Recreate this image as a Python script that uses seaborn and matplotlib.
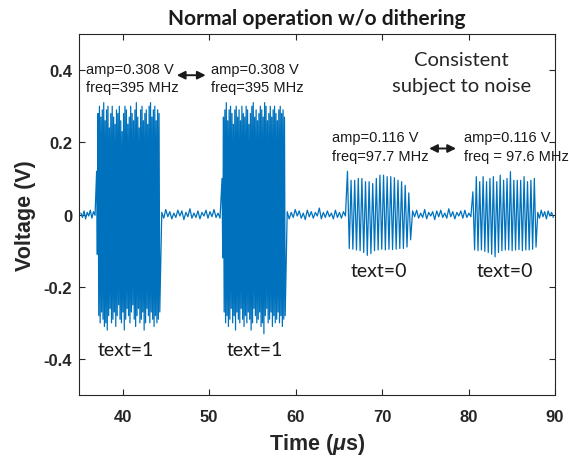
import numpy as np
import matplotlib
matplotlib.use('Agg')
import matplotlib.pyplot as plt
import seaborn as sns

# burst windows in microseconds
burst_start = [37.0, 51.5, 66.0, 80.5]
burst_stop = [44.3, 58.8, 73.3, 87.8]

# peak values (V) of each burst, top and bottom, left to right
burst1_top = [0.12, 0.28, 0.30, 0.27, 0.29, 0.31, 0.26, 0.29, 0.30, 0.24, 0.28, 0.30,
              0.27, 0.25, 0.29, 0.28, 0.30, 0.26, 0.23, 0.28, 0.30, 0.29, 0.25, 0.27,
              0.30, 0.28, 0.26, 0.29, 0.31, 0.27, 0.24, 0.29, 0.30, 0.26, 0.28, 0.29,
              0.25, 0.30, 0.31, 0.27, 0.29, 0.30, 0.26, 0.29, 0.28]
burst1_bot = [-0.11, -0.28, -0.30, -0.27, -0.29, -0.31, -0.30, -0.32, -0.28, -0.26, -0.30, -0.29,
              -0.27, -0.31, -0.28, -0.25, -0.29, -0.30, -0.27, -0.32, -0.29, -0.26, -0.28, -0.30,
              -0.27, -0.25, -0.29, -0.31, -0.28, -0.26, -0.30, -0.29, -0.27, -0.32, -0.30, -0.26,
              -0.28, -0.30, -0.27, -0.29, -0.31, -0.28, -0.30, -0.29, -0.27]
burst2_top = [0.10, 0.27, 0.29, 0.31, 0.26, 0.29, 0.30, 0.28, 0.25, 0.29, 0.30, 0.27,
              0.29, 0.26, 0.30, 0.28, 0.27, 0.30, 0.29, 0.25, 0.28, 0.30, 0.31, 0.27,
              0.29, 0.26, 0.28, 0.30, 0.29, 0.27, 0.31, 0.30, 0.26, 0.28, 0.30, 0.27,
              0.29, 0.30, 0.28, 0.26, 0.29, 0.30, 0.28, 0.29, 0.27]
burst2_bot = [-0.12, -0.27, -0.30, -0.28, -0.31, -0.29, -0.26, -0.30, -0.28, -0.32, -0.27, -0.29,
              -0.30, -0.26, -0.29, -0.31, -0.28, -0.30, -0.27, -0.29, -0.32, -0.30, -0.26, -0.28,
              -0.30, -0.29, -0.27, -0.31, -0.30, -0.33, -0.28, -0.26, -0.30, -0.29, -0.27, -0.31,
              -0.28, -0.30, -0.29, -0.27, -0.30, -0.28, -0.31, -0.29, -0.28]
burst3_top = [0.120, 0.095, 0.095, 0.100, 0.100, 0.091, 0.091, 0.086, 0.100, 0.109,
              0.109, 0.105, 0.105, 0.102, 0.095, 0.091, 0.081, 0.060]
burst3_bot = [-0.094, -0.096, -0.098, -0.100, -0.105, -0.113, -0.108, -0.100, -0.098, -0.096,
              -0.098, -0.096, -0.097, -0.096, -0.094, -0.094, -0.090, -0.070]
burst4_top = [0.063, 0.105, 0.091, 0.105, 0.091, 0.100, 0.105, 0.091, 0.109, 0.095,
              0.100, 0.119, 0.095, 0.095, 0.095, 0.105, 0.091, 0.095, 0.100]
burst4_bot = [-0.098, -0.100, -0.098, -0.102, -0.105, -0.110, -0.117, -0.105, -0.100, -0.098,
              -0.098, -0.100, -0.098, -0.097, -0.100, -0.098, -0.098, -0.096, -0.090]

# baseline noise (V) in the quiet stretches before, between and after the bursts
gap0_noise = [0.004, -0.008, 0.010, -0.012, 0.006, -0.004, 0.012, -0.010, 0.008, -0.002]
gap1_noise = [0.006, -0.010, 0.014, -0.006, 0.008, -0.012, 0.004, -0.008, 0.012, -0.004,
              0.010, -0.014, 0.006, -0.006, 0.016, -0.010, 0.004, -0.008, 0.010, -0.012,
              0.006, -0.004, 0.012, -0.010, 0.008, -0.006, 0.014, -0.008, 0.004, -0.010]
gap2_noise = [0.008, -0.012, 0.006, -0.008, 0.014, -0.004, 0.010, -0.010, 0.004, -0.014,
              0.012, -0.006, 0.008, -0.010, 0.006, -0.004, 0.018, -0.012, 0.006, -0.008,
              0.010, -0.006, 0.004, -0.012, 0.012, -0.008, 0.006, -0.010, 0.008, -0.004]
gap3_noise = [0.010, -0.006, 0.012, -0.010, 0.004, -0.008, 0.014, -0.012, 0.006, -0.004,
              0.008, -0.014, 0.010, -0.006, 0.012, -0.008, 0.004, -0.010, 0.016, -0.006,
              0.008, -0.012, 0.006, -0.004, 0.010, -0.010, 0.012, -0.008, 0.004, -0.006]
gap4_noise = [0.006, -0.010, 0.012, -0.006, 0.008, -0.012, 0.010, -0.004, 0.006, -0.008]

burst_tops = [burst1_top, burst2_top, burst3_top, burst4_top]
burst_bots = [burst1_bot, burst2_bot, burst3_bot, burst4_bot]
gap_noise = [gap0_noise, gap1_noise, gap2_noise, gap3_noise, gap4_noise]

burst_info = [["amp=0.308 V", "freq=395 MHz"],
              ["amp=0.308 V", "freq=395 MHz"],
              ["amp=0.116 V", "freq=97.7 MHz"],
              ["amp=0.116 V", "freq = 97.6 MHz"]]
burst_text = ["text=1", "text=1", "text=0", "text=0"]

t_min, t_max = 35, 90


def build_trace():
    t, v = [], []
    gap_edges = [t_min] + [x for pair in zip(burst_start, burst_stop) for x in pair] + [t_max]
    for i, noise in enumerate(gap_noise):
        a, b = gap_edges[2 * i], gap_edges[2 * i + 1]
        t.extend(np.linspace(a, b, len(noise) + 2)[1:-1])
        v.extend(noise)
        if i < len(burst_tops):
            peaks = np.column_stack([burst_tops[i], burst_bots[i]]).ravel()
            t.extend(np.linspace(burst_start[i], burst_stop[i], len(peaks)))
            v.extend(peaks)
    return np.array(t), np.array(v)


t, v = build_trace()

sns.set_theme(style='ticks')
plt.rcParams['font.family'] = ['Liberation Sans', 'DejaVu Sans']
plt.rcParams['mathtext.fontset'] = 'custom'
plt.rcParams['mathtext.it'] = 'Liberation Sans:italic:bold'
plt.rcParams['mathtext.rm'] = 'Liberation Sans:bold'

fig = plt.figure(figsize=(5.69, 4.60), dpi=100)
ax = fig.add_axes([0.1394, 0.139, 0.8361, 0.7848])

sns.lineplot(x=t, y=v, estimator=None, sort=False, color='#0072BD', lw=0.9, ax=ax)

ax.set_xlim(t_min, t_max)
ax.set_ylim(-0.5, 0.5)
ax.set_xticks([40, 50, 60, 70, 80, 90])
ax.set_yticks([-0.4, -0.2, 0, 0.2, 0.4])
ax.set_yticklabels(['-0.4', '-0.2', '0', '0.2', '0.4'])
ax.tick_params(direction='in', top=True, right=True, length=4, width=0.8,
               colors='#262626', labelsize=12)
ax.tick_params(axis='x', pad=10)
ax.tick_params(axis='y', pad=5)
for lbl in ax.get_xticklabels() + ax.get_yticklabels():
    lbl.set_fontweight('bold')
for sp in ax.spines.values():
    sp.set_visible(True)
    sp.set_color('#262626')
    sp.set_linewidth(0.8)

ax.set_xlabel('Time ($\\mu$s)', fontsize=15.5, fontweight='bold', color='#262626', labelpad=5)
ax.set_ylabel('Voltage (V)', fontsize=15.5, fontweight='bold', color='#262626', labelpad=6)
ax.set_title('Normal operation w/o dithering', fontsize=15, fontweight='bold',
             family='Lato', color='k', pad=7)

# burst annotations
info_x = [35.77, 50.19, 64.26, 79.49]
info_y = [(0.392, 0.342), (0.392, 0.342), (0.203, 0.150), (0.203, 0.150)]
for x, (y1, y2), lines in zip(info_x, info_y, burst_info):
    ax.text(x, y1, lines[0], fontsize=10.5, va='baseline', ha='left', color='k')
    ax.text(x, y2, lines[1], fontsize=10.5, va='baseline', ha='left', color='k')

for (x0, x1, y) in [(46.27, 49.61, 0.386), (75.44, 78.55, 0.183)]:
    ax.annotate('', xy=(x1, y), xytext=(x0, y),
                arrowprops=dict(arrowstyle='<|-|>', color='k', lw=1.4,
                                mutation_scale=12, shrinkA=0, shrinkB=0))

label_x = [37.16, 52.04, 66.34, 80.99]
label_y = [-0.389, -0.389, -0.169, -0.169]
for x, y, s in zip(label_x, label_y, burst_text):
    ax.text(x, y, s, fontsize=14, family='Lato', va='baseline', ha='left', color='k')

ax.text(79.2, 0.414, 'Consistent', fontsize=14.5, family='Lato', ha='center', va='baseline')
ax.text(79.2, 0.342, 'subject to noise', fontsize=14.5, family='Lato', ha='center', va='baseline')

fig.savefig('out.png', dpi=100, facecolor='white')
